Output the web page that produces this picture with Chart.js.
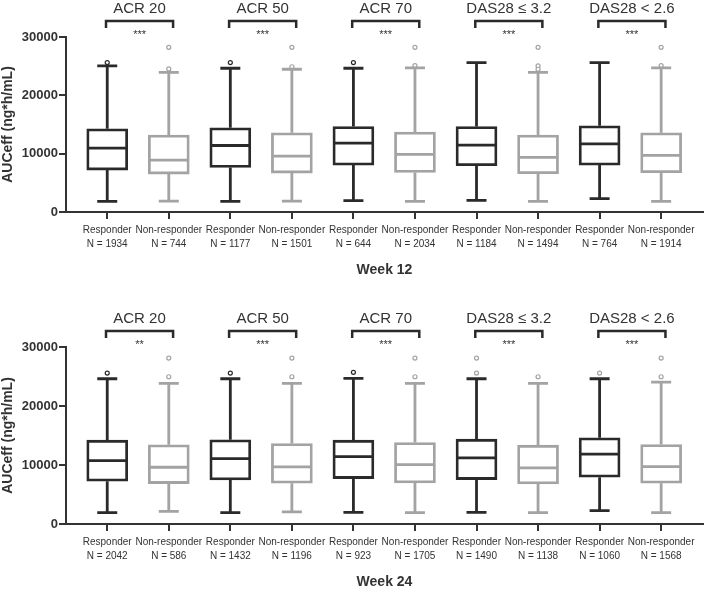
<!DOCTYPE html>
<html>
<head>
<meta charset="utf-8">
<script src="https://cdn.jsdelivr.net/npm/chart.js@4"></script>
<style>
  html, body { margin: 0; padding: 0; background: #fff; }
  #wrap { position: relative; width: 709px; height: 592px; overflow: hidden; }
  .panel { position: absolute; left: 0; width: 709px; }
  #p12 { top: 0; height: 290px; }
  #p24 { top: 310px; height: 282px; }
</style>
</head>
<body>
<div id="wrap">
  <div class="panel" id="p12"><canvas id="week12"></canvas></div>
  <div class="panel" id="p24"><canvas id="week24"></canvas></div>
</div>
<script>
/* ---------- DATA ---------- */
const groups = ["ACR 20", "ACR 50", "ACR 70", "DAS28 \u2264 3.2", "DAS28 < 2.6"];
const roles = ["Responder", "Non-responder"];

// week 12, boxes in order: resp / non-resp per group
const w12N      = [1934, 744, 1177, 1501, 644, 2034, 1184, 1494, 764, 1914];
const w12Sig    = ["***", "***", "***", "***", "***"];
const w12Min    = [1830, 1880, 1830, 1880, 1940, 1830, 2000, 1830, 2280, 1830];
const w12Q1     = [7190, 6500, 7640, 6670, 8040, 6790, 7930, 6560, 8040, 6730];
const w12Median = [10950, 8900, 11400, 9580, 11800, 9870, 11460, 9350, 11690, 9700];
const w12Q3     = [14260, 13180, 14430, 13570, 14660, 13690, 14660, 13180, 14770, 13570];
const w12Max    = [25040, 23950, 24640, 24470, 24640, 24700, 25610, 23950, 25610, 24700];
const w12Out    = [[25610], [28230, 24520], [25610], [28230, 24900], [25610], [28230, 25100],
                   [], [28230, 25040, 24470], [], [28230, 25100]];

// week 24
const w24N      = [2042, 586, 1432, 1196, 923, 1705, 1490, 1138, 1060, 1568];
const w24Sig    = ["**", "***", "***", "***", "***"];
const w24Min    = [1925, 2150, 1925, 2040, 1980, 1925, 1980, 1925, 2260, 1925];
const w24Q1     = [7245, 6850, 7470, 6910, 7700, 6960, 7530, 6790, 7925, 6910];
const w24Median = [10755, 9620, 11090, 9680, 11430, 10075, 11210, 9510, 11830, 9740];
const w24Q3     = [14210, 13415, 14260, 13640, 14210, 13810, 14380, 13360, 14600, 13470];
const w24Max    = [24620, 23830, 24620, 23830, 24680, 23830, 24620, 23830, 24620, 24060];
const w24Out    = [[25585], [28130, 24960], [25585], [28130, 24960], [25700], [28130, 24960],
                   [28130, 25585], [24960], [25585], [28130, 24960]];

const yTicks = [0, 10000, 20000, 30000];

/* ---------- STYLE ---------- */
const DARK = "#2a2a2a";
const GREY = "#a3a3a3";
const AXIS = "#333333";
const FONT = "'Liberation Sans', Arial, sans-serif";

function boxColor(i) { return i % 2 === 0 ? DARK : GREY; }

/* ---------- BOX PLOT PLUGIN (whiskers, medians, brackets) ---------- */
const boxPlugin = {
  id: "boxExtras",
  afterDatasetsDraw(chart) {
    const cfg = chart.options.plugins.boxExtras;
    const x = chart.scales.x, y = chart.scales.y;
    const ctx = chart.ctx;
    const half = 20, cap = 10;
    ctx.save();
    ctx.lineWidth = 2.8;
    ctx.lineCap = "butt";
    cfg.median.forEach((m, i) => {
      const cx = x.getPixelForValue(i);
      ctx.strokeStyle = boxColor(i);
      ctx.beginPath();
      // median
      ctx.moveTo(cx - half, y.getPixelForValue(m));
      ctx.lineTo(cx + half, y.getPixelForValue(m));
      // whiskers
      ctx.moveTo(cx, y.getPixelForValue(cfg.q3[i]));
      ctx.lineTo(cx, y.getPixelForValue(cfg.max[i]));
      ctx.moveTo(cx, y.getPixelForValue(cfg.q1[i]));
      ctx.lineTo(cx, y.getPixelForValue(cfg.min[i]));
      // caps
      ctx.moveTo(cx - cap, y.getPixelForValue(cfg.max[i]));
      ctx.lineTo(cx + cap, y.getPixelForValue(cfg.max[i]));
      ctx.moveTo(cx - cap, y.getPixelForValue(cfg.min[i]));
      ctx.lineTo(cx + cap, y.getPixelForValue(cfg.min[i]));
      ctx.stroke();
    });
    ctx.restore();
  },
  afterDraw(chart) {
    const cfg = chart.options.plugins.boxExtras;
    const x = chart.scales.x;
    const ctx = chart.ctx;
    const top = chart.chartArea.top;
    ctx.save();
    groups.forEach((g, k) => {
      const x0 = x.getPixelForValue(2 * k - 0.02);
      const x1 = x.getPixelForValue(2 * k + 1.07);
      const mid = (x0 + x1) / 2;
      ctx.fillStyle = AXIS;
      ctx.textAlign = "center";
      ctx.textBaseline = "middle";
      ctx.font = "15px " + FONT;
      ctx.fillText(g, mid, top - 28);
      ctx.strokeStyle = DARK;
      ctx.lineWidth = 2.5;
      ctx.beginPath();
      ctx.moveTo(x0, top - 9);
      ctx.lineTo(x0, top - 16);
      ctx.lineTo(x1, top - 16);
      ctx.lineTo(x1, top - 9);
      ctx.stroke();
      ctx.font = "11px " + FONT;
      ctx.fillText(cfg.sig[k], mid, top - 2);
    });
    ctx.restore();
  }
};

/* ---------- BUILD ONE PANEL ---------- */
function makePanel(id, week, n, sig, mn, q1, med, q3, mx, out, lightOut, axisH) {
  const boxes = med.map((_, i) => ({ x: i, y: [q1[i], q3[i]] }));
  const outPts = [];
  const outCols = [];
  out.forEach((vals, i) => vals.forEach(v => {
    outPts.push({ x: i, y: v });
    outCols.push(i % 2 === 0 && !lightOut.includes(i) ? DARK : GREY);
  }));

  return new Chart(document.getElementById(id), {
    data: {
      datasets: [
        {
          type: "bar",
          data: boxes,
          backgroundColor: "#ffffff",
          borderColor: boxes.map((_, i) => boxColor(i)),
          borderWidth: 2.8,
          barThickness: 41,
          grouped: false,
          borderSkipped: false
        },
        {
          type: "scatter",
          data: outPts,
          pointStyle: "circle",
          pointRadius: 2,
          pointBorderWidth: 1.2,
          pointBackgroundColor: "#ffffff",
          pointBorderColor: outCols
        }
      ]
    },
    options: {
      responsive: true,
      maintainAspectRatio: false,
      animation: false,
      layout: { padding: { left: 0, right: 6, top: 37, bottom: 0 } },
      plugins: {
        legend: { display: false },
        tooltip: { enabled: false },
        boxExtras: { sig, min: mn, q1, median: med, q3, max: mx }
      },
      scales: {
        x: {
          type: "linear",
          min: -0.67,
          max: 9.68,
          offset: false,
          afterFit: s => { s.height = axisH; },
          afterBuildTicks: s => {
            s.ticks = med.map((_, i) => ({ value: i }));
          },
          ticks: {
            autoSkip: false,
            maxRotation: 0,
            minRotation: 0,
            padding: 4,
            color: AXIS,
            font: { family: FONT, size: 10, lineHeight: 1.4 },
            callback: v => [roles[v % 2], "N = " + n[v]]
          },
          grid: { display: true, drawOnChartArea: false, offset: false, tickLength: 7, color: AXIS, lineWidth: 2 },
          border: { display: true, color: AXIS, width: 2 },
          title: {
            display: true,
            text: week,
            color: AXIS,
            font: { family: FONT, size: 14, weight: "bold" },
            padding: { top: 0, bottom: axisH - 67 }
          }
        },
        y: {
          min: 0,
          max: 30000,
          afterFit: s => { s.width = 66; },
          afterBuildTicks: s => { s.ticks = yTicks.map(v => ({ value: v })); },
          ticks: {
            padding: 1,
            color: AXIS,
            font: { family: FONT, size: 13, weight: "bold" },
            callback: v => String(v)
          },
          grid: { display: true, drawOnChartArea: false, tickLength: 7, color: AXIS, lineWidth: 2 },
          border: { display: true, color: AXIS, width: 2 },
          title: {
            display: true,
            text: "AUCeff (ng*h/mL)",
            color: AXIS,
            font: { family: FONT, size: 14, weight: "bold" },
            padding: { top: 0, bottom: 0 }
          }
        }
      }
    },
    plugins: [boxPlugin]
  });
}

makePanel("week12", "Week 12", w12N, w12Sig, w12Min, w12Q1, w12Median, w12Q3, w12Max, w12Out, [], 78);
makePanel("week24", "Week 24", w24N, w24Sig, w24Min, w24Q1, w24Median, w24Q3, w24Max, w24Out, [6, 8], 68);
</script>
</body>
</html>
